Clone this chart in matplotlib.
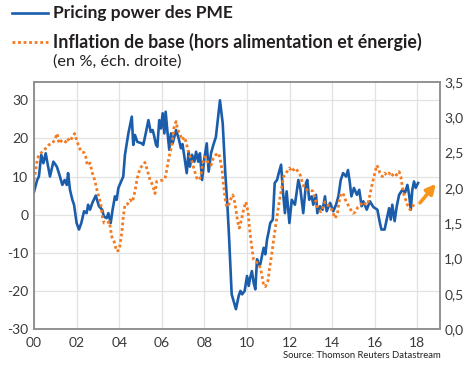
import matplotlib
matplotlib.use("Agg")
import matplotlib.pyplot as plt
from matplotlib.lines import Line2D

plt.rcParams['font.family'] = ['Lato', 'DejaVu Sans']

# Pricing power des PME (left axis)
pme_years = [2000.00, 2000.15, 2000.23, 2000.34, 2000.44, 2000.55, 2000.62, 2000.75, 2000.91,
             2001.07, 2001.17, 2001.33, 2001.44, 2001.54, 2001.60, 2001.69, 2001.80, 2001.88,
             2002.00, 2002.11, 2002.22, 2002.35, 2002.47, 2002.54, 2002.63, 2002.74, 2002.90,
             2003.05, 2003.20, 2003.28, 2003.41, 2003.49, 2003.60, 2003.69, 2003.80, 2003.88, 2003.96,
             2004.12, 2004.19, 2004.27, 2004.43, 2004.59, 2004.66, 2004.74, 2004.85,
             2005.06, 2005.13, 2005.26, 2005.37, 2005.48, 2005.57, 2005.63, 2005.73, 2005.79, 2005.88, 2005.96,
             2006.04, 2006.12, 2006.18, 2006.26, 2006.35, 2006.43, 2006.51, 2006.67, 2006.79, 2006.90, 2006.97,
             2007.06, 2007.17, 2007.26, 2007.32, 2007.42, 2007.53, 2007.61, 2007.71, 2007.79, 2007.89,
             2008.00, 2008.11, 2008.20, 2008.31, 2008.42, 2008.54, 2008.73, 2008.86, 2008.98,
             2009.09, 2009.15, 2009.28, 2009.48, 2009.61, 2009.69, 2009.77, 2009.89,
             2010.00, 2010.08, 2010.15, 2010.23, 2010.31, 2010.39, 2010.47, 2010.55, 2010.62, 2010.70, 2010.78, 2010.86, 2010.94,
             2011.02, 2011.09, 2011.21, 2011.30, 2011.41, 2011.49, 2011.60, 2011.68, 2011.78, 2011.86, 2011.99,
             2012.10, 2012.25, 2012.41, 2012.50, 2012.64, 2012.77, 2012.83, 2012.92,
             2013.04, 2013.11, 2013.24, 2013.30, 2013.43, 2013.55, 2013.66, 2013.74, 2013.90,
             2014.05, 2014.18, 2014.29, 2014.40, 2014.51, 2014.65, 2014.74, 2014.82, 2014.90,
             2015.02, 2015.16, 2015.27, 2015.38, 2015.46, 2015.62, 2015.77, 2015.93,
             2016.12, 2016.24, 2016.31, 2016.46, 2016.59, 2016.67, 2016.75, 2016.82, 2016.93,
             2017.03, 2017.14, 2017.29, 2017.42, 2017.53, 2017.61, 2017.69, 2017.76, 2017.84, 2017.92, 2018.03]
pme_values = [6.0, 9.1, 10.0, 15.7, 13.5, 16.1, 13.9, 10.0, 13.9,
              12.6, 10.9, 7.8, 9.1, 7.8, 10.9, 6.5, 3.9, 2.6,
              -2.2, -3.9, -2.2, 0.9, 0.4, 2.6, 1.3, 3.1, 5.0,
              2.2, 1.3, -0.5, -0.9, 0.4, -2.2, 1.3, 4.8, 3.9, 7.0,
              9.1, 10.0, 15.7, 21.3, 25.7, 18.3, 20.9, 19.1,
              18.7, 18.3, 21.7, 24.8, 21.7, 22.2, 20.9, 18.3, 17.8, 24.8, 22.6,
              26.6, 21.3, 27.0, 22.0, 17.0, 21.3, 18.7, 22.2, 20.0, 17.4, 18.5,
              15.2, 10.9, 16.5, 12.6, 15.7, 13.9, 16.5, 13.9, 16.1, 9.1,
              14.8, 18.7, 11.3, 16.1, 18.3, 20.4, 30.0, 23.9, 10.9,
              1.3, -5.0, -20.9, -24.8, -21.3, -20.0, -20.9, -20.0,
              -16.1, -18.7, -16.5, -14.8, -17.8, -19.6, -11.7, -13.1, -13.1, -10.9, -8.7, -10.4, -6.5,
              -4.4, -2.2, -1.3, 8.3, 9.1, 10.9, 13.1, 6.5, 0.4, 6.1, -2.2,
              3.9, 2.6, 9.1, 7.0, 0.4, 8.3, 9.1, 3.9,
              4.8, 2.6, 5.2, 0.4, 2.2, 1.3, 4.8, 0.9, 3.1,
              0.9, 2.6, 4.8, 9.1, 10.9, 10.0, 11.7, 8.7, 4.8,
              7.0, 5.2, 6.5, 2.2, 3.5, 1.3, 3.5, 2.0,
              1.3, -2.2, -3.9, -3.9, -0.4, 1.7, -1.3, 2.6, -1.7,
              2.2, 5.2, 6.5, 5.8, 7.8, 5.2, 1.3, 6.5, 8.7, 7.0, 8.3]

# Inflation de base (right axis, %)
infl_years = [2000.00, 2000.08, 2000.15, 2000.23, 2000.39, 2000.55, 2000.70, 2000.86, 2000.97,
              2001.09, 2001.17, 2001.33, 2001.49, 2001.56, 2001.69, 2001.80, 2001.91,
              2002.00, 2002.11, 2002.22, 2002.35, 2002.43, 2002.50, 2002.63, 2002.74, 2002.85, 2002.94,
              2003.05, 2003.13, 2003.21, 2003.29, 2003.43, 2003.54, 2003.65, 2003.76, 2003.88,
              2004.00, 2004.12, 2004.19, 2004.27, 2004.39, 2004.51, 2004.62, 2004.74, 2004.85, 2004.98,
              2005.10, 2005.21, 2005.32, 2005.45, 2005.57, 2005.68, 2005.76, 2005.88,
              2006.04, 2006.15, 2006.23, 2006.31, 2006.38, 2006.46, 2006.57, 2006.67, 2006.75, 2006.83, 2006.95,
              2007.06, 2007.14, 2007.22, 2007.29, 2007.42, 2007.53, 2007.64, 2007.76, 2007.84, 2007.92,
              2008.04, 2008.15, 2008.31, 2008.42, 2008.54, 2008.67, 2008.73, 2008.83, 2008.89, 2008.98,
              2009.05, 2009.13, 2009.25, 2009.33, 2009.40, 2009.48, 2009.56, 2009.64, 2009.73, 2009.85, 2009.95,
              2010.05, 2010.11, 2010.20, 2010.31, 2010.42, 2010.55, 2010.67, 2010.78, 2010.86, 2010.99,
              2011.05, 2011.14, 2011.25, 2011.36, 2011.49, 2011.61, 2011.72, 2011.88, 2011.99,
              2012.11, 2012.24, 2012.35, 2012.50, 2012.61, 2012.71, 2012.84, 2012.99,
              2013.10, 2013.18, 2013.25, 2013.33, 2013.46, 2013.57, 2013.65, 2013.76, 2013.88, 2013.99,
              2014.12, 2014.24, 2014.32, 2014.40, 2014.51, 2014.62, 2014.74, 2014.87, 2014.98,
              2015.09, 2015.21, 2015.33, 2015.45, 2015.60, 2015.68, 2015.77, 2015.88,
              2016.00, 2016.09, 2016.15, 2016.24, 2016.35, 2016.46, 2016.56, 2016.67, 2016.78, 2016.90,
              2017.02, 2017.14, 2017.22, 2017.29, 2017.37, 2017.45, 2017.53, 2017.65, 2017.76, 2017.84]
infl_values = [2.11, 2.25, 2.39, 2.47, 2.51, 2.56, 2.61, 2.63, 2.68,
               2.77, 2.63, 2.68, 2.65, 2.70, 2.66, 2.72, 2.77,
               2.68, 2.58, 2.51, 2.50, 2.44, 2.32, 2.35, 2.21, 2.11, 1.99,
               1.87, 1.78, 1.59, 1.50, 1.50, 1.52, 1.31, 1.24, 1.10,
               1.12, 1.36, 1.59, 1.76, 1.77, 1.83, 1.80, 1.95, 2.14, 2.28,
               2.32, 2.36, 2.25, 2.11, 2.04, 1.92, 2.09, 2.10,
               2.11, 2.13, 2.25, 2.39, 2.49, 2.58, 2.85, 2.94, 2.82, 2.78, 2.68,
               2.72, 2.65, 2.54, 2.47, 2.37, 2.25, 2.14, 2.11, 2.18, 2.35,
               2.44, 2.37, 2.32, 2.42, 2.47, 2.49, 2.42, 2.25, 2.06, 1.83,
               1.73, 1.75, 1.85, 1.90, 1.83, 1.69, 1.52, 1.43, 1.54, 1.71, 1.80,
               1.66, 1.45, 1.21, 0.98, 0.95, 0.93, 0.81, 0.62, 0.60, 0.69,
               0.84, 1.02, 1.26, 1.50, 1.76, 1.97, 2.16, 2.23, 2.28,
               2.23, 2.28, 2.25, 2.18, 2.06, 1.99, 1.97, 1.97,
               1.95, 1.87, 1.78, 1.71, 1.66, 1.73, 1.80, 1.78, 1.71, 1.69,
               1.57, 1.62, 1.80, 1.92, 1.92, 1.83, 1.76, 1.69, 1.64,
               1.66, 1.73, 1.76, 1.80, 1.76, 1.78, 1.90, 2.06,
               2.21, 2.32, 2.29, 2.21, 2.16, 2.21, 2.18, 2.21, 2.16, 2.21,
               2.18, 2.23, 2.16, 2.02, 1.90, 1.83, 1.76, 1.69, 1.71, 1.78]

x_ticks = list(range(2000, 2019, 2))
x_labels = ["00", "02", "04", "06", "08", "10", "12", "14", "16", "18"]
left_ticks = [-30, -20, -10, 0, 10, 20, 30]
right_ticks = [0.0, 0.5, 1.0, 1.5, 2.0, 2.5, 3.0, 3.5]

BLUE = "#1b5dab"
ORANGE = "#f47a20"
ARROW = "#f7941d"
SPINE = "#8e8e8e"
GRID = "#e2e2e2"
TXT = "#231f20"

fig = plt.figure(figsize=(4.7, 3.67), dpi=100)
ax = fig.add_axes([34 / 470, 1 - 329 / 367, 406 / 470, 247 / 367])
ax2 = ax.twinx()

ax.plot(pme_years, pme_values, color=BLUE, lw=1.9, solid_joinstyle='round', zorder=3)
ax2.plot(infl_years, infl_values, color=ORANGE, lw=2.0, dashes=(1.0, 1.0), zorder=2)

ax.set_xlim(2000, 2019.06)
ax.set_ylim(-30, 34.8)
ax2.set_ylim(0, 3.5)

ax.set_xticks(x_ticks)
ax.set_xticklabels(x_labels)
ax.set_yticks(left_ticks)
ax.set_yticklabels([str(t) for t in left_ticks])
ax2.set_yticks(right_ticks)
ax2.set_yticklabels([f"{t:.1f}".replace(".", ",") for t in right_ticks])

ax.grid(True, color=GRID, lw=0.9)
ax.set_axisbelow(True)

for a in (ax, ax2):
    for s in a.spines.values():
        s.set_color(SPINE)
        s.set_linewidth(1.1)
    a.tick_params(length=0, labelsize=10, colors="#3a3a3a")
ax.tick_params(axis='y', pad=4)
ax.tick_params(axis='x', pad=6)
ax2.tick_params(axis='y', pad=3)

# arrow at the end of the series
ax.annotate("", xy=(2018.87, 8.1), xytext=(2018.12, 3.1),
            arrowprops=dict(arrowstyle='-|>', color=ARROW, lw=2.6, mutation_scale=14,
                            shrinkA=0, shrinkB=0))

# legend drawn by hand at the top
fig.add_artist(Line2D([12 / 470, 48 / 470], [1 - 13 / 367, 1 - 13 / 367], color=BLUE, lw=1.9))
fig.add_artist(Line2D([12 / 470, 48 / 470], [1 - 42 / 367, 1 - 42 / 367], color=ORANGE, lw=2.0,
                      dashes=(1.0, 1.0)))
fig.text(53 / 470, 1 - 13 / 367, "Pricing power des PME", fontsize=12.5, fontweight='bold',
         color=TXT, va='center', ha='left')
fig.text(53 / 470, 1 - 42 / 367, "Inflation de base (hors alimentation et énergie)", fontsize=12.8,
         fontweight='bold', color=TXT, va='center', ha='left')
fig.text(53 / 470, 1 - 62 / 367, "(en %, éch. droite)", fontsize=11.8, color=TXT,
         va='center', ha='left')
fig.text(441 / 470, 1 - 356 / 367, "Source: Thomson Reuters Datastream", fontsize=6.8,
         color=TXT, va='center', ha='right')

fig.savefig("out.png", dpi=100)
